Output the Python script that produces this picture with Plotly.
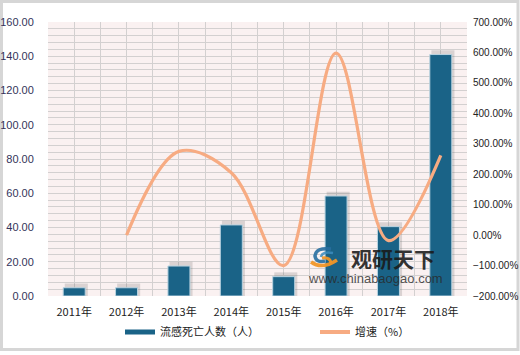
import plotly.graph_objects as go

years = ["2011年", "2012年", "2013年", "2014年", "2015年", "2016年", "2017年", "2018年"]
deaths = [4.8, 4.8, 17.5, 41.5, 11.3, 58.4, 40.5, 141.0]
growth_years = years[1:]
growth = [0.0, 275.0, 205.0, -100.0, 598.0, -18.0, 262.0]

bar_name = "流感死亡人数（人）"
line_name = "增速（%）"
bar_color = "#1a6387"
line_color = "#f7ab82"
grid_color = "#d3d0d0"

x_bar = list(range(len(years)))
x_line = [years.index(y) for y in growth_years]

fig = go.Figure()

# soft shadow behind bars
fig.add_trace(go.Bar(
    x=[v + 0.04 for v in x_bar], y=[v + 2.5 for v in deaths], width=0.44,
    marker=dict(color="rgba(90,90,90,0.2)", line=dict(width=0)),
    showlegend=False, hoverinfo="skip", yaxis="y"))

fig.add_trace(go.Bar(
    x=x_bar, y=deaths, width=0.42, name=bar_name, showlegend=False,
    marker=dict(color=bar_color, line=dict(color="#b9d3e0", width=1)),
    yaxis="y"))

fig.add_trace(go.Scatter(
    x=x_line, y=growth, name=line_name, mode="lines",
    line=dict(color=line_color, width=3.2, shape="spline", smoothing=1.0),
    yaxis="y2", showlegend=False))

# legend entries (line style symbols as in reference)
fig.add_trace(go.Scatter(x=[None], y=[None], mode="lines", name=bar_name,
                         line=dict(color=bar_color, width=5), yaxis="y"))
fig.add_trace(go.Scatter(x=[None], y=[None], mode="lines", name=line_name,
                         line=dict(color=line_color, width=4), yaxis="y2"))

L, R, T, B = 48, 53, 22, 59
W, H = 520, 355
pw, ph = W - L - R, H - T - B

def px(xp):
    return (xp - L) / pw

def py(yp):
    return (H - B - yp) / ph

def path(cmds):
    out = []
    for c in cmds:
        if isinstance(c, str):
            out.append(c)
        else:
            out.append(f"{px(c[0]):.4f},{py(c[1]):.4f}")
    return " ".join(out)

logo_blue = path(["M", (331, 249), "Q", (316, 247), (315, 256), "Q", (316, 263), (325, 261)])
logo_blue2 = path(["M", (333, 253), "Q", (322, 251), (321, 257)])
logo_orange = path(["M", (311, 262), "Q", (322, 270), (337, 260)])
logo_orange2 = path(["M", (322, 258), "Q", (330, 257), (331, 263)])

fig.update_layout(
    width=W, height=H,
    margin=dict(l=L, r=R, t=T, b=B, pad=0, autoexpand=False),
    paper_bgcolor="white",
    plot_bgcolor="#faf1f1",
    barmode="overlay",
    font=dict(family="Liberation Sans, Arial, sans-serif", size=11, color="#222"),
    xaxis=dict(
        range=[-0.5, len(years) - 0.5],
        tickmode="array", tickvals=x_bar, ticktext=years,
        showgrid=True, gridcolor=grid_color, gridwidth=1,
        minor=dict(dtick=0.5, tick0=-0.5, showgrid=True, gridcolor=grid_color, gridwidth=1),
        zeroline=False, showline=False, ticks="outside", ticklen=6,
        tickcolor="rgba(0,0,0,0)",
        tickfont=dict(family="Noto Sans CJK SC, Liberation Sans", size=11, color="#222"),
        automargin=False,
    ),
    yaxis=dict(
        range=[0, 160], dtick=20, tickformat=".2f",
        showgrid=True, gridcolor=grid_color, gridwidth=1,
        minor=dict(dtick=4, showgrid=True, gridcolor=grid_color, gridwidth=1),
        zeroline=False, showline=False, ticks="outside", ticklen=11,
        tickcolor="rgba(0,0,0,0)",
        tickfont=dict(size=11, color="#33335a"),
        automargin=False,
    ),
    yaxis2=dict(
        range=[-200, 700], dtick=100, tickformat=".2f", ticksuffix="%",
        overlaying="y", side="right", showgrid=False, zeroline=False,
        showline=False, ticks="outside", ticklen=3, tickcolor="rgba(0,0,0,0)",
        tickfont=dict(size=10, color="#222"),
        automargin=False,
    ),
    legend=dict(
        orientation="h", x=px(120), xanchor="left", y=py(332), yanchor="middle",
        font=dict(family="Noto Sans CJK SC", size=11, color="#222"),
        entrywidth=150, bgcolor="rgba(0,0,0,0)",
    ),
    shapes=[
        dict(type="rect", xref="paper", yref="paper",
             x0=px(1.5), x1=px(518), y0=py(1.5), y1=py(349.5),
             line=dict(color="#d6d6d6", width=3), layer="below"),
        dict(type="path", xref="paper", yref="paper", path=logo_blue,
             line=dict(color="rgba(40,110,160,0.9)", width=3.5)),
        dict(type="path", xref="paper", yref="paper", path=logo_blue2,
             line=dict(color="rgba(60,140,190,0.85)", width=2.5)),
        dict(type="path", xref="paper", yref="paper", path=logo_orange,
             line=dict(color="rgba(240,150,40,0.95)", width=3.5)),
        dict(type="path", xref="paper", yref="paper", path=logo_orange2,
             line=dict(color="rgba(240,150,40,0.95)", width=3)),
    ],
    annotations=[
        dict(text="<b>观研天下</b>", xref="paper", yref="paper", x=px(393), y=py(258),
             showarrow=False, font=dict(family="Noto Sans CJK SC", size=21, color="rgba(25,25,25,0.9)"),
             xanchor="center", yanchor="middle"),
        dict(text="www.chinabaogao.com", xref="paper", yref="paper", x=px(375), y=py(278),
             showarrow=False, font=dict(family="Liberation Sans", size=13, color="rgba(40,40,40,0.8)"),
             xanchor="center", yanchor="middle"),
    ],
)

fig.write_html("out.html")
